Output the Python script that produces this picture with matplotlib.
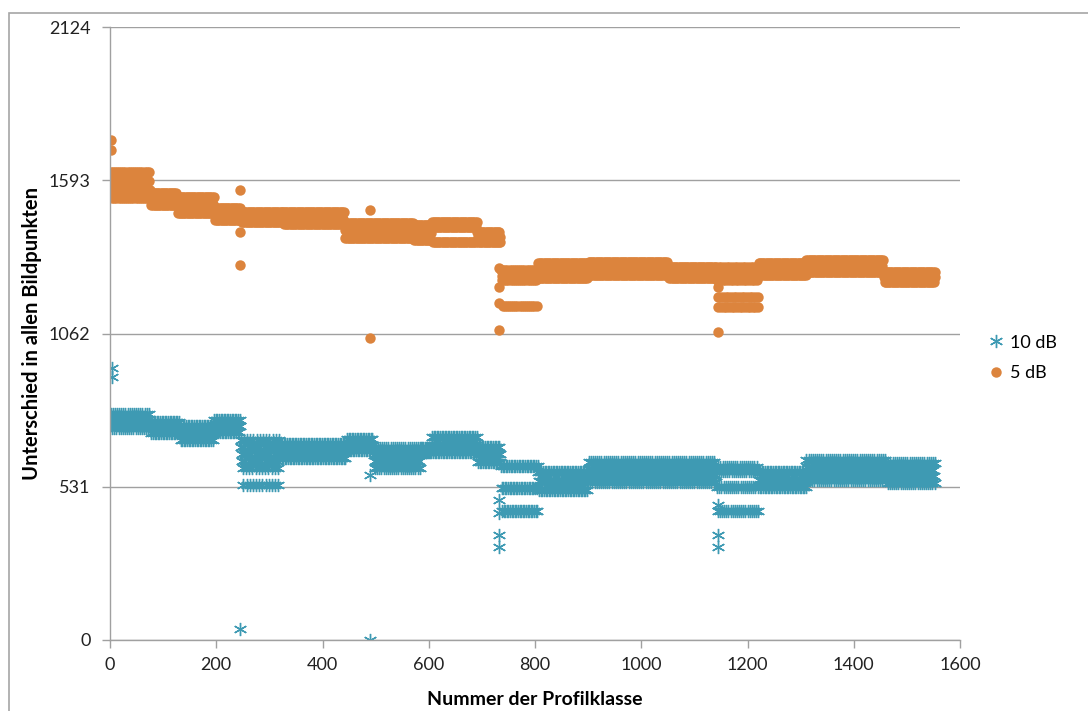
import matplotlib.pyplot as plt
from matplotlib.patches import Rectangle

plt.rcParams['font.family'] = ['Lato', 'DejaVu Sans']

# profile classes run from 1 to 1553; each segment holds the rows seen in the picture
orange_start = [1, 76, 126, 196, 246, 326, 441, 571, 606, 691, 736, 806, 901, 1051, 1141, 1221, 1311, 1456]
orange_end = [75, 125, 195, 245, 325, 440, 570, 605, 690, 735, 805, 900, 1050, 1140, 1220, 1310, 1455, 1553]
orange_levels = [
    [1620, 1590, 1560, 1530],
    [1549, 1530, 1507],
    [1535, 1510, 1480],
    [1497, 1475, 1455],
    [1483, 1465, 1449],
    [1483, 1460, 1440],
    [1445, 1420, 1393],
    [1438, 1410, 1386],
    [1448, 1430, 1380],
    [1413, 1395, 1379],
    [1282, 1262, 1247, 1157],
    [1306, 1280, 1254],
    [1310, 1288, 1265],
    [1292, 1272, 1254],
    [1292, 1270, 1247, 1188, 1154],
    [1306, 1285, 1265],
    [1317, 1296, 1275],
    [1275, 1258, 1240],
]
orange_out_x = [2, 2, 244, 244, 244, 489, 489, 733, 733, 733, 733, 1144, 1144]
orange_out_y = [1732, 1698, 1559, 1413, 1299, 1490, 1046, 1289, 1223, 1168, 1074, 1223, 1067]

blue_start = [1, 76, 131, 196, 246, 321, 446, 496, 586, 606, 691, 736, 806, 901, 1141, 1221, 1311, 1461]
blue_end = [75, 130, 195, 245, 320, 445, 495, 585, 605, 690, 735, 805, 900, 1140, 1220, 1310, 1460, 1553]
blue_levels = [
    [783, 767, 751, 735],
    [755, 736, 717],
    [741, 717, 693],
    [762, 741, 721],
    [693, 670, 645, 620, 596, 538],
    [679, 655, 631],
    [696, 677, 658],
    [665, 642, 619, 596],
    [665, 651],
    [703, 677, 651],
    [669, 643, 617],
    [603, 527, 447],
    [582, 551, 520],
    [617, 594, 570, 547],
    [600, 585, 530, 447],
    [582, 556, 530],
    [624, 601, 577, 554],
    [613, 590, 567, 544],
]
blue_out_x = [3, 3, 244, 489, 489, 733, 733, 733, 733, 1144, 1144, 1144]
blue_out_y = [942, 911, 38, 0, 571, 485, 440, 364, 322, 468, 364, 322]


def expand(starts, ends, levels, out_x, out_y):
    xs, ys = [], []
    for s, e, lv in zip(starts, ends, levels):
        for i, x in enumerate(range(s, e + 1)):
            xs.append(x)
            ys.append(lv[i % len(lv)])
    return xs + out_x, ys + out_y


bx, by = expand(blue_start, blue_end, blue_levels, blue_out_x, blue_out_y)
ox, oy = expand(orange_start, orange_end, orange_levels, orange_out_x, orange_out_y)

blue = '#3E9AB3'
orange = '#DC843D'
grey = '#A0A0A0'

fig = plt.figure(figsize=(10.88, 7.11), dpi=100)
fig.patches.append(Rectangle((9 / 1088, -0.1), 1.2, 1.1 - 13 / 711, transform=fig.transFigure,
                             fill=False, edgecolor='#A6A6A6', linewidth=1.2))
ax = fig.add_axes([110 / 1088, 71 / 711, 850 / 1088, 613 / 711])

ax.plot(bx, by, linestyle='none', marker=(6, 2, 0), markersize=9.5, markeredgewidth=1.0,
        color=blue, label='10 dB')
ax.plot(ox, oy, linestyle='none', marker='o', markersize=7.5, markeredgewidth=0,
        color=orange, label='5 dB')

ax.set_xlim(0, 1600)
ax.set_ylim(0, 2124)
ax.set_xticks(range(0, 1601, 200))
ax.set_yticks([0, 531, 1062, 1593, 2124])
ax.grid(axis='y', color=grey, linewidth=1.0)
ax.set_axisbelow(True)
for side in ['top', 'right']:
    ax.spines[side].set_visible(False)
for side in ['left', 'bottom']:
    ax.spines[side].set_color(grey)
    ax.spines[side].set_linewidth(1.0)
ax.tick_params(axis='both', colors=grey, labelcolor='#222222', labelsize=13, length=6, width=1.0)
ax.tick_params(axis='x', pad=6)
ax.tick_params(axis='y', pad=8)

ax.set_xlabel('Nummer der Profilklasse', fontsize=14, fontweight='bold', labelpad=13)
ax.set_ylabel('Unterschied in allen Bildpunkten', fontsize=14.5, fontweight='bold', labelpad=5)

ax.legend(loc='center left', bbox_to_anchor=(978 / 1088, 353 / 711), bbox_transform=fig.transFigure,
          frameon=False, fontsize=13, handletextpad=0.3, labelspacing=0.8, handlelength=1.0,
          borderpad=0, markerscale=1.0)

fig.savefig('out.png', dpi=100)
